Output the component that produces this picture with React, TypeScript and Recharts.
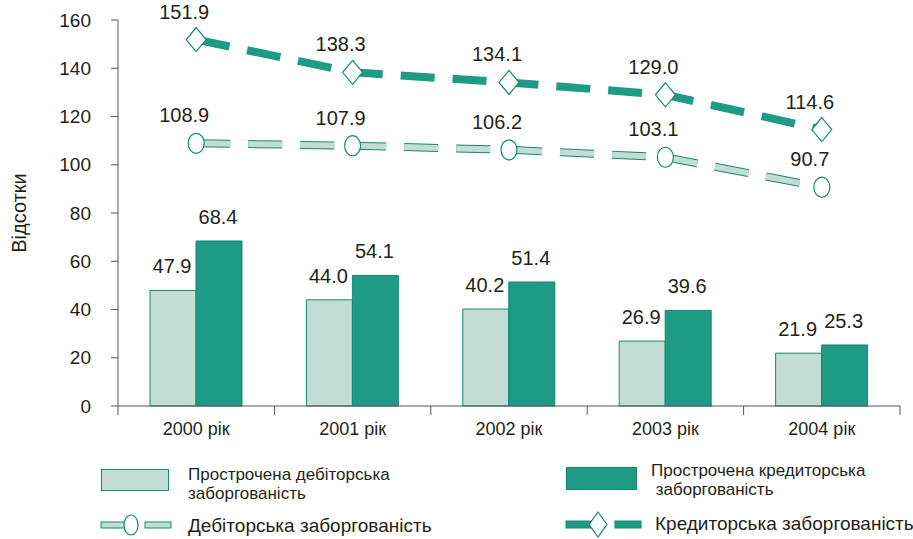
import React from 'react';
import {
  Bar,
  ComposedChart,
  LabelList,
  Line,
  XAxis,
  YAxis,
  Label,
} from 'recharts';

const categories = ['2000 рік', '2001 рік', '2002 рік', '2003 рік', '2004 рік'];
const overdueReceivable = [47.9, 44.0, 40.2, 26.9, 21.9];
const overduePayable = [68.4, 54.1, 51.4, 39.6, 25.3];
const receivable = [108.9, 107.9, 106.2, 103.1, 90.7];
const payable = [151.9, 138.3, 134.1, 129.0, 114.6];
const yTicks = [0, 20, 40, 60, 80, 100, 120, 140, 160];

const LIGHT = '#c3ddd5';
const DARK = '#1e9b84';
const EDGE = '#138a70';
const TEXT = '#231f20';
const FONT = '"Liberation Sans", Arial, sans-serif';

const WIDTH = 913;
const HEIGHT = 539;
const MARGIN = { top: 20, right: 13, bottom: 103, left: 18 };
const Y_AXIS_WIDTH = 100;
const PLOT_WIDTH = WIDTH - MARGIN.left - MARGIN.right - Y_AXIS_WIDTH;
const CAT_WIDTH = PLOT_WIDTH / categories.length;

const data = categories.map((name, i) => ({
  name,
  overdueReceivable: overdueReceivable[i],
  overduePayable: overduePayable[i],
  receivable: receivable[i],
  payable: payable[i],
}));

const fmt = (v: number) => v.toFixed(1);

const XTick = (props: any) => {
  const { x, y, payload, index } = props;
  const isLast = index === categories.length - 1;
  return (
    <g>
      <line x1={x - CAT_WIDTH / 2} x2={x - CAT_WIDTH / 2} y1={y - 8} y2={y + 1} stroke="#555" />
      {isLast ? (
        <line x1={x + CAT_WIDTH / 2} x2={x + CAT_WIDTH / 2} y1={y - 8} y2={y + 1} stroke="#555" />
      ) : null}
      <text x={x} y={y + 21} textAnchor="middle" fontSize={18} fill={TEXT} fontFamily={FONT}>
        {payload.value}
      </text>
    </g>
  );
};

const BarValue = (props: any) => {
  const { x, y, width, value } = props;
  return (
    <text x={x + width / 2 - 1} y={y - 17} textAnchor="middle" fontSize={20} fill={TEXT} fontFamily={FONT}>
      {fmt(value)}
    </text>
  );
};

const LineValue = (props: any) => {
  const { x, y, value } = props;
  return (
    <text x={x - 12} y={y - 21} textAnchor="middle" fontSize={20} fill={TEXT} fontFamily={FONT}>
      {fmt(value)}
    </text>
  );
};

const Ellipse = (props: any) => {
  const { cx, cy } = props;
  if (cx == null || cy == null) return null;
  return <ellipse cx={cx} cy={cy} rx={8} ry={10} fill="#fff" stroke={EDGE} strokeWidth={1.2} />;
};

const Diamond = (props: any) => {
  const { cx, cy } = props;
  if (cx == null || cy == null) return null;
  return (
    <path
      d={`M${cx},${cy - 12} L${cx + 10},${cy} L${cx},${cy + 12} L${cx - 10},${cy} Z`}
      fill="#fff"
      stroke={EDGE}
      strokeWidth={1.2}
    />
  );
};

const legendText: React.CSSProperties = {
  position: 'absolute',
  fontFamily: FONT,
  fontSize: 17,
  color: TEXT,
  lineHeight: '19px',
  whiteSpace: 'nowrap',
};

export default function App() {
  return (
    <div style={{ position: 'absolute', left: 0, top: 0, width: WIDTH, height: HEIGHT, background: '#fff' }}>
      <ComposedChart
        width={WIDTH}
        height={HEIGHT}
        data={data}
        margin={MARGIN}
        barSize={46}
        barGap={0}
      >
        <XAxis
          dataKey="name"
          axisLine={{ stroke: '#555' }}
          tickLine={false}
          tick={<XTick />}
          interval={0}
          height={30}
        />
        <YAxis
          width={Y_AXIS_WIDTH}
          domain={[0, 160]}
          ticks={yTicks}
          interval={0}
          axisLine={{ stroke: '#555' }}
          tickLine={{ stroke: '#555' }}
          tickSize={7}
          tickMargin={20}
          tick={{ fontSize: 19, fill: TEXT, fontFamily: FONT }}
        >
          <Label
            content={() => (
              <text
                x={19}
                y={213}
                transform="rotate(-90, 19, 213)"
                textAnchor="middle"
                dominantBaseline="central"
                fontSize={20}
                fill={TEXT}
                fontFamily={FONT}
              >
                Відсотки
              </text>
            )}
          />
        </YAxis>
        <Bar dataKey="overdueReceivable" fill={LIGHT} stroke={EDGE} strokeWidth={1} isAnimationActive={false}>
          <LabelList dataKey="overdueReceivable" content={<BarValue />} />
        </Bar>
        <Bar dataKey="overduePayable" fill={DARK} stroke={EDGE} strokeWidth={1} isAnimationActive={false}>
          <LabelList dataKey="overduePayable" content={<BarValue />} />
        </Bar>
        <Line
          dataKey="receivable"
          stroke={EDGE}
          strokeWidth={8}
          strokeDasharray="34 18"
          strokeLinecap="butt"
          type="linear"
          dot={false}
          activeDot={false}
          isAnimationActive={false}
        />
        <Line
          dataKey="receivable"
          stroke={LIGHT}
          strokeWidth={6}
          strokeDasharray="34 18"
          strokeLinecap="butt"
          type="linear"
          dot={<Ellipse />}
          activeDot={false}
          isAnimationActive={false}
        >
          <LabelList dataKey="receivable" content={<LineValue />} />
        </Line>
        <Line
          dataKey="payable"
          stroke={DARK}
          strokeWidth={8}
          strokeDasharray="34 18"
          strokeLinecap="butt"
          type="linear"
          dot={<Diamond />}
          activeDot={false}
          isAnimationActive={false}
        >
          <LabelList dataKey="payable" content={<LineValue />} />
        </Line>
      </ComposedChart>

      {/* legend */}
      <div
        style={{
          position: 'absolute',
          left: 101,
          top: 469,
          width: 66,
          height: 20,
          background: LIGHT,
          border: `1px solid ${EDGE}`,
        }}
      />
      <div style={{ ...legendText, left: 188, top: 465 }}>
        Прострочена дебіторська
        <br />
        заборгованість
      </div>
      <div
        style={{
          position: 'absolute',
          left: 566,
          top: 467,
          width: 69,
          height: 21,
          background: DARK,
          border: `1px solid ${EDGE}`,
        }}
      />
      <div style={{ ...legendText, left: 651, top: 461 }}>
        Прострочена кредиторська
        <br />
        &nbsp;заборгованість
      </div>
      <svg style={{ position: 'absolute', left: 95, top: 510 }} width={85} height={30}>
        <rect x={6} y={12} width={26} height={6} fill={LIGHT} stroke={EDGE} />
        <ellipse cx={36} cy={15} rx={7} ry={10} fill="#fff" stroke={EDGE} strokeWidth={1.2} />
        <rect x={50} y={12} width={26} height={6} fill={LIGHT} stroke={EDGE} />
      </svg>
      <div style={{ ...legendText, fontSize: 19, lineHeight: '21px', left: 188, top: 515 }}>
        Дебіторська заборгованість
      </div>
      <svg style={{ position: 'absolute', left: 560, top: 508 }} width={90} height={32}>
        <rect x={6} y={13} width={26} height={7} fill={DARK} stroke={EDGE} />
        <path d="M38,4 L47,16.5 L38,29 L29,16.5 Z" fill="#fff" stroke={EDGE} strokeWidth={1.2} />
        <rect x={55} y={13} width={26} height={7} fill={DARK} stroke={EDGE} />
      </svg>
      <div style={{ ...legendText, fontSize: 19, lineHeight: '21px', left: 655, top: 513 }}>
        Кредиторська заборгованість
      </div>
    </div>
  );
}
